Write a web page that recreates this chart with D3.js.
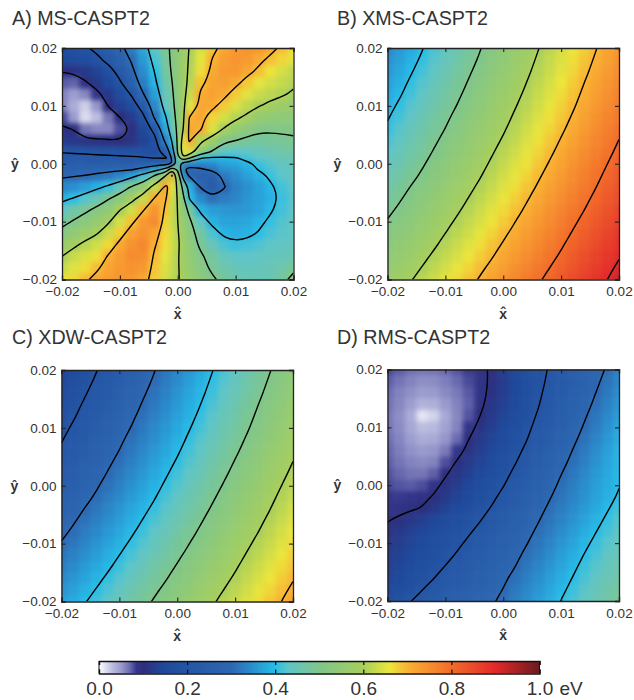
<!DOCTYPE html>
<html>
<head>
<meta charset="utf-8">
<script src="https://cdn.jsdelivr.net/npm/d3@7"></script>
<style>
  html, body { margin: 0; background: #fff; }
  text { font-family: "Liberation Sans", Arial, sans-serif; fill: #333; }
</style>
</head>
<body>
<svg id="chart" width="634" height="700"></svg>
<script>
// energies in meV, rows run from y = 0.02 down to y = -0.02, columns from x = -0.02 to 0.02
const gridX = [-0.02,-0.018,-0.016,-0.014,-0.012,-0.01,-0.008,-0.006,-0.004,-0.002,0,0.002,0.004,0.006,0.008,0.01,0.012,0.014,0.016,0.018,0.02];
const gridY = [0.02,0.018,0.016,0.014,0.012,0.01,0.008,0.006,0.004,0.002,0,-0.002,-0.004,-0.006,-0.008,-0.01,-0.012,-0.014,-0.016,-0.018,-0.02];
// panel A has two more rows and columns right beside the crossing
const gridXA = [-0.02,-0.018,-0.016,-0.014,-0.012,-0.01,-0.008,-0.006,-0.004,-0.002,-0.001,0,0.001,0.002,0.004,0.006,0.008,0.01,0.012,0.014,0.016,0.018,0.02];
const gridYA = [0.02,0.018,0.016,0.014,0.012,0.01,0.008,0.006,0.004,0.002,0.001,0,-0.001,-0.002,-0.004,-0.006,-0.008,-0.01,-0.012,-0.014,-0.016,-0.018,-0.02];

const msValues = [
[165,178,192,215,250,285,327,377,432,488,510,546,574,602,644,687,716,735,745,735,715,690,665],
[150,155,165,185,219,262,306,360,417,480,511,542,574,606,653,703,728,740,733,712,690,672,652],
[103,108,120,140,175,222,285,345,402,472,507,541,576,610,667,712,733,735,715,690,662,640,622],
[75,72,95,118,150,192,257,328,388,458,498,538,577,615,688,720,728,712,682,655,638,625,612],
[60,48,58,88,120,160,205,295,365,445,490,535,582,630,710,722,712,680,650,630,618,607,590],
[60,40,22,52,102,133,165,232,342,430,481,532,590,650,715,712,680,645,622,603,586,572,566],
[80,50,16,30,65,100,125,182,310,400,465,525,594,702,715,672,638,612,588,558,547,540,540],
[108,98,65,58,58,78,102,148,225,372,440,520,605,715,704,645,595,558,534,512,509,510,513],
[125,118,110,108,105,100,110,135,175,330,405,515,650,708,612,572,515,500,484,478,482,487,491],
[198,195,192,188,183,180,176,172,170,240,355,510,665,640,545,490,440,430,437,445,459,468,472],
[218,217,217,215,215,212,209,205,198,195,310,470,590,505,405,389,393,397,415,429,442,453,460],
[241,243,245,246,250,251,252,258,265,275,300,450,345,340,336,345,367,375,390,412,425,438,448],
[265,268,273,277,283,289,296,320,370,430,590,480,310,270,290,315,350,358,380,403,418,433,444],
[288,294,300,311,322,340,372,420,500,600,705,550,350,290,255,252,320,345,365,385,410,428,440],
[337,349,365,385,412,450,506,553,625,720,660,585,470,380,295,240,295,330,350,370,392,415,432],
[386,403,425,455,495,534,582,627,705,700,640,595,510,395,340,310,325,338,355,370,385,410,428],
[433,465,488,517,545,600,636,696,740,690,632,598,538,480,385,365,358,355,360,372,395,415,430],
[480,506,530,558,593,640,688,735,755,675,633,600,560,515,430,385,372,370,375,390,408,423,434],
[521,545,572,595,632,678,725,745,720,670,637,605,567,525,474,420,390,382,388,403,418,428,438],
[560,588,615,636,670,715,745,760,705,665,637,610,575,540,485,450,420,410,415,422,430,437,444],
[600,628,645,665,705,730,755,750,692,655,630,605,575,545,510,475,445,430,430,435,440,447,453],
[628,648,668,692,720,735,745,735,685,645,625,605,580,555,520,488,462,448,442,445,450,465,485],
[655,670,692,715,730,740,735,718,680,640,622,605,585,565,530,510,480,462,452,450,455,480,520]
];

const xmsValues = [
[338,358,378,398,418,438,458,478,498,518,538,558,578,598,618,638,658,678,698,718,738],
[347,367,387,406,426,446,466,486,505,525,545,565,585,605,625,645,665,685,705,725,745],
[357,377,396,416,435,455,475,494,514,533,553,573,592,612,632,652,672,692,712,732,752],
[367,386,406,425,445,464,483,503,522,542,561,581,600,620,640,660,680,700,719,739,759],
[376,395,415,434,453,473,492,511,531,550,569,588,608,628,648,668,688,707,727,747,767],
[387,406,425,444,463,482,501,521,540,559,578,597,616,636,656,675,695,715,735,754,774],
[397,416,435,454,473,492,511,529,548,567,586,606,625,645,665,684,704,724,744,763,783],
[407,426,445,463,482,501,520,539,558,576,595,615,634,654,673,693,713,732,752,772,791],
[418,437,455,474,493,511,530,549,567,586,605,624,644,664,683,703,722,742,762,781,801],
[429,447,466,484,503,521,540,558,577,596,615,634,654,673,693,712,732,751,771,790,810],
[440,458,477,495,514,532,550,569,587,606,625,645,664,683,703,722,742,761,780,800,819],
[452,470,488,506,525,543,561,579,597,617,636,655,674,694,713,732,751,771,790,809,828],
[465,483,501,519,537,555,573,590,608,628,647,666,685,704,723,742,761,780,799,819,838],
[478,495,513,530,548,566,583,601,620,639,658,677,696,714,733,752,771,790,809,828,847],
[490,507,525,542,559,577,594,612,631,650,669,688,706,725,744,763,782,800,819,838,857],
[503,520,537,554,571,588,606,624,643,662,680,699,718,736,755,774,792,811,829,848,867],
[515,532,549,566,583,600,618,636,655,673,692,710,729,747,766,784,803,821,840,858,877],
[527,544,561,578,594,612,630,649,667,685,704,722,740,759,777,795,814,832,850,869,887],
[539,556,572,589,607,625,643,661,679,697,716,734,752,770,788,806,825,843,861,879,897],
[552,568,585,602,620,638,656,674,692,710,728,746,764,782,800,818,836,854,872,890,908],
[564,580,597,615,633,651,669,687,704,722,740,758,776,794,811,829,847,865,883,900,918]
];

const xdwValues = [
[138,158,178,198,218,238,258,278,298,318,338,358,378,398,418,438,458,478,498,518,538],
[147,167,187,206,226,246,266,286,305,325,345,365,385,405,425,445,465,485,505,525,545],
[157,177,196,216,235,255,275,294,314,333,353,373,392,412,432,452,472,492,512,532,552],
[167,186,206,225,245,264,283,303,322,342,361,381,400,420,440,460,480,500,519,539,559],
[176,195,215,234,253,273,292,311,331,350,369,388,408,428,448,468,488,507,527,547,567],
[187,206,225,244,263,282,301,321,340,359,378,397,416,436,456,475,495,515,535,554,574],
[197,216,235,254,273,292,311,329,348,367,386,406,425,445,465,484,504,524,544,563,583],
[207,226,245,263,282,301,320,339,358,376,395,415,434,454,473,493,513,532,552,572,591],
[218,237,255,274,293,311,330,349,367,386,405,424,444,464,483,503,522,542,562,581,601],
[229,247,266,284,303,321,340,358,377,396,415,434,454,473,493,512,532,551,571,590,610],
[240,258,277,295,314,332,350,369,387,406,425,445,464,483,503,522,542,561,580,600,619],
[252,270,288,306,325,343,361,379,397,417,436,455,474,494,513,532,551,571,590,609,628],
[265,283,301,319,337,355,373,390,408,428,447,466,485,504,523,542,561,580,599,619,638],
[278,295,313,330,348,366,383,401,420,439,458,477,496,514,533,552,571,590,609,628,647],
[290,307,325,342,359,377,394,412,431,450,469,488,506,525,544,563,582,600,619,638,657],
[303,320,337,354,371,388,406,424,443,462,480,499,518,536,555,574,592,611,629,648,667],
[315,332,349,366,383,400,418,436,455,473,492,510,529,547,566,584,603,621,640,658,677],
[327,344,361,378,394,412,430,449,467,485,504,522,540,559,577,595,614,632,650,669,687],
[339,356,372,389,407,425,443,461,479,497,516,534,552,570,588,606,625,643,661,679,697],
[352,368,385,402,420,438,456,474,492,510,528,546,564,582,600,618,636,654,672,690,708],
[364,380,397,415,433,451,469,487,504,522,540,558,576,594,611,629,647,665,683,700,718]
];

const rmsValues = [
[80,74,68,65,66,70,76,84,93,104,124,144,164,184,204,224,244,264,285,305,330],
[74,66,60,55,56,62,70,79,91,105,126,146,167,187,208,229,250,271,292,313,337],
[70,60,54,49,50,57,64,75,90,108,129,150,171,192,213,235,256,278,300,322,345],
[67,58,48,36,38,50,60,73,92,114,134,155,176,197,219,242,264,286,308,331,354],
[65,55,40,12,20,42,58,76,100,121,141,162,183,204,227,249,272,295,318,341,364],
[66,56,43,30,33,46,60,88,109,129,150,170,190,212,235,258,281,304,327,350,373],
[69,59,48,40,42,52,70,99,119,139,158,178,198,221,244,267,291,313,335,358,381],
[72,62,54,50,52,63,85,110,129,148,168,187,208,231,255,278,301,323,345,367,390],
[74,66,60,57,60,78,103,122,140,159,178,197,219,242,265,288,310,331,352,372,392],
[77,71,66,65,73,96,115,133,151,169,188,208,230,253,276,299,320,340,360,378,396],
[80,76,74,78,90,109,127,145,162,180,198,220,242,264,287,308,328,347,365,382,398],
[85,84,86,92,103,120,138,156,174,191,211,233,254,276,297,316,334,352,369,387,405],
[90,92,95,102,118,135,152,169,186,203,224,245,266,287,307,325,343,361,379,397,415],
[98,105,118,131,145,158,171,185,198,217,237,257,277,297,316,334,352,371,389,407,425],
[108,120,133,145,158,170,182,195,211,230,250,269,288,307,325,344,362,381,399,416,434],
[115,128,141,153,166,179,192,207,225,243,261,280,298,316,335,354,372,391,409,426,444],
[122,135,149,162,176,189,203,221,238,255,273,290,308,326,345,364,382,401,418,435,452],
[128,142,157,171,186,201,217,234,250,266,283,299,318,336,355,373,392,410,427,444,461],
[136,152,168,184,199,215,230,246,261,277,293,310,328,346,365,383,401,418,436,453,470],
[146,165,184,199,213,228,243,257,272,287,301,320,338,356,374,392,410,428,445,463,480],
[160,180,199,213,226,240,254,268,282,295,309,327,345,363,381,401,419,437,454,472,490]
];

const panelTitles = ["A) MS-CASPT2", "B) XMS-CASPT2", "C) XDW-CASPT2", "D) RMS-CASPT2"];
const panelValues = [msValues, xmsValues, xdwValues, rmsValues];
const panelGridX = [gridXA, gridX, gridX, gridX];
const panelGridY = [gridYA, gridY, gridY, gridY];
const contourLevels = [100, 200, 300, 400, 500, 600, 700, 800, 900];
const axisTicks = [-0.02, -0.01, 0, 0.01, 0.02];

const colorStops = [0, 0.03, 0.05, 0.07, 0.085, 0.1, 0.15, 0.2, 0.3, 0.35, 0.4, 0.43, 0.5, 0.6, 0.66, 0.7, 0.75, 0.8, 0.9, 1];
const colorValues = ["#ffffff", "#bcbde0", "#9a9bcd", "#6a6ab0", "#33368a", "#2d2e7d", "#1f4a9c", "#2455a5", "#2d67b1", "#2a90cf", "#27bde8", "#5fc5c8", "#7fc68b", "#a7cf5c", "#ece63b", "#f9b233", "#f68e2f", "#f26c2a", "#e2292a", "#6c1a1f"];
const colorbarTicks = [0, 0.2, 0.4, 0.6, 0.8, 1];

const panelBoxes = [
  {left: 62, top: 48, titleX: 12, titleY: 25},
  {left: 387.5, top: 48, titleX: 337, titleY: 25},
  {left: 61.5, top: 370, titleX: 12, titleY: 344},
  {left: 387.5, top: 369.5, titleX: 337, titleY: 344}
];
const plotSize = 231.5;

const color = d3.scaleLinear().domain(colorStops).range(colorValues).clamp(true);
const svg = d3.select("#chart");

// softens the cell edges only, the cells stay as they are in the arrays
svg.append("defs").append("filter").attr("id", "soften")
  .attr("color-interpolation-filters", "sRGB")
  .append("feGaussianBlur").attr("stdDeviation", 2.4);

// cell borders, halfway between neighbouring grid points, outer ones pushed past the frame
function cellEdges(grid) {
  const mid = d3.pairs(grid, (a, b) => (a + b) / 2);
  return [grid[0] - (grid[1] - grid[0]) * 2, ...mid, grid[grid.length - 1] + (grid[grid.length - 1] - grid[grid.length - 2]) * 2];
}

// rings that run along the outside of the grid get cut there, so the curve keeps to the real line
function ringPath(ring, w, h, closedLine, openLine) {
  const pts = ring.slice(0, -1);
  const outer = p => p[0] <= 0 || p[0] >= w || p[1] <= 0 || p[1] >= h;
  const start = pts.findIndex(outer);
  if (start < 0) return closedLine(pts);
  let path = "", seg = [];
  for (let k = 0; k <= pts.length; k++) {
    const p = pts[(start + k) % pts.length];
    if (outer(p)) {
      if (seg.length > 1) path += openLine(seg);
      seg = [];
    } else {
      seg.push(p);
    }
  }
  return path;
}

function drawPanel(values, title, box, idx) {
  const xs = panelGridX[idx], ys = panelGridY[idx];
  const x = d3.scaleLinear().domain([-0.02, 0.02]).range([0, plotSize]);
  const y = d3.scaleLinear().domain([-0.02, 0.02]).range([plotSize, 0]);
  const g = svg.append("g").attr("transform", `translate(${box.left},${box.top})`);

  svg.append("text")
    .attr("x", box.titleX).attr("y", box.titleY)
    .style("font-size", "19.7px")
    .text(title);

  g.append("clipPath").attr("id", "clip" + idx)
    .append("rect").attr("width", plotSize).attr("height", plotSize);

  const plot = g.append("g").attr("clip-path", `url(#clip${idx})`);
  const heat = plot.append("g").attr("filter", "url(#soften)");
  const xEdges = cellEdges(xs), yEdges = cellEdges(ys);

  values.forEach((row, i) => {
    heat.selectAll(null).data(row).enter().append("rect")
      .attr("x", (d, j) => x(xEdges[j]))
      .attr("y", y(yEdges[i]))
      .attr("width", (d, j) => x(xEdges[j + 1]) - x(xEdges[j]) + 0.5)
      .attr("height", y(yEdges[i + 1]) - y(yEdges[i]) + 0.5)
      .attr("fill", d => color(d / 1000));
  });

  // d3.contours puts grid point k at k + 0.5
  const colToX = d3.scaleLinear().domain(d3.range(xs.length)).range(xs);
  const rowToY = d3.scaleLinear().domain(d3.range(ys.length)).range(ys);
  const closedLine = d3.line()
    .x(p => x(colToX(p[0] - 0.5)))
    .y(p => y(rowToY(p[1] - 0.5)))
    .curve(d3.curveBasisClosed);
  const openLine = d3.line()
    .x(p => x(colToX(p[0] - 0.5)))
    .y(p => y(rowToY(p[1] - 0.5)))
    .curve(d3.curveBasis);
  const contours = d3.contours().size([xs.length, ys.length]).thresholds(contourLevels)(values.flat());
  plot.selectAll("path.contour").data(contours).enter().append("path")
    .attr("class", "contour")
    .attr("d", c => c.coordinates.flat().map(r => ringPath(r, xs.length, ys.length, closedLine, openLine)).join(""))
    .attr("fill", "none")
    .attr("stroke", "#000")
    .attr("stroke-width", 1.4);

  const fmt = d3.format(".2f");
  const axes = [
    g.append("g").attr("transform", `translate(0,${plotSize})`)
      .call(d3.axisBottom(x).tickValues(axisTicks).tickFormat(fmt).tickSize(-4).tickPadding(7)),
    g.append("g")
      .call(d3.axisLeft(y).tickValues(axisTicks).tickFormat(fmt).tickSize(-4).tickPadding(5)),
    g.append("g")
      .call(d3.axisTop(x).tickValues(axisTicks).tickFormat("").tickSize(-4)),
    g.append("g").attr("transform", `translate(${plotSize},0)`)
      .call(d3.axisRight(y).tickValues(axisTicks).tickFormat("").tickSize(-4))
  ];
  axes.forEach(a => {
    a.selectAll("text").style("font-size", "13.5px").style("font-family", null).attr("fill", null);
    a.selectAll(".domain").attr("stroke", "#222").attr("stroke-width", 1.3);
    a.selectAll("line").attr("stroke", "#222").attr("stroke-width", 1.1);
  });

  g.append("text")
    .attr("x", plotSize / 2).attr("y", plotSize + 39)
    .attr("text-anchor", "middle")
    .style("font-size", "14px").style("font-weight", "bold")
    .text("x\u0302");
  g.append("text")
    .attr("x", box.left > 100 ? -50 : -47).attr("y", plotSize / 2 + 5)
    .attr("text-anchor", "middle")
    .style("font-size", "14px").style("font-weight", "bold")
    .text("y\u0302");
}

panelValues.forEach((v, i) => drawPanel(v, panelTitles[i], panelBoxes[i], i));

// colorbar
const barX = d3.scaleLinear().domain([0, 1]).range([99, 539.5]);
const barTop = 661, barH = 12.5;
const gradient = svg.select("defs").append("linearGradient").attr("id", "barFill");
gradient.selectAll("stop").data(colorStops).enter().append("stop")
  .attr("offset", d => d)
  .attr("stop-color", d => color(d));
svg.append("rect")
  .attr("x", barX(0)).attr("y", barTop)
  .attr("width", barX(1) - barX(0)).attr("height", barH)
  .attr("fill", "url(#barFill)");

const barBottom = svg.append("g").attr("transform", `translate(0,${barTop + barH})`)
  .call(d3.axisBottom(barX).tickValues(colorbarTicks).tickFormat(d3.format(".1f")).tickSize(-4).tickPadding(8));
const barUpper = svg.append("g").attr("transform", `translate(0,${barTop})`)
  .call(d3.axisTop(barX).tickValues(colorbarTicks).tickFormat("").tickSize(-4));
[barBottom, barUpper].forEach(a => {
  a.selectAll("text").style("font-size", "19px").style("font-family", null).attr("fill", null);
  a.selectAll(".domain").attr("stroke", "#111").attr("stroke-width", 1.3);
  a.selectAll("line").attr("stroke", "#111").attr("stroke-width", 1.2);
});
svg.append("line").attr("x1", barX(0)).attr("x2", barX(0)).attr("y1", barTop).attr("y2", barTop + barH).attr("stroke", "#111");
svg.append("line").attr("x1", barX(1)).attr("x2", barX(1)).attr("y1", barTop).attr("y2", barTop + barH).attr("stroke", "#111");
svg.append("text").attr("x", barX(1) + 20).attr("y", 695).style("font-size", "19px").text("eV");
</script>
</body>
</html>
